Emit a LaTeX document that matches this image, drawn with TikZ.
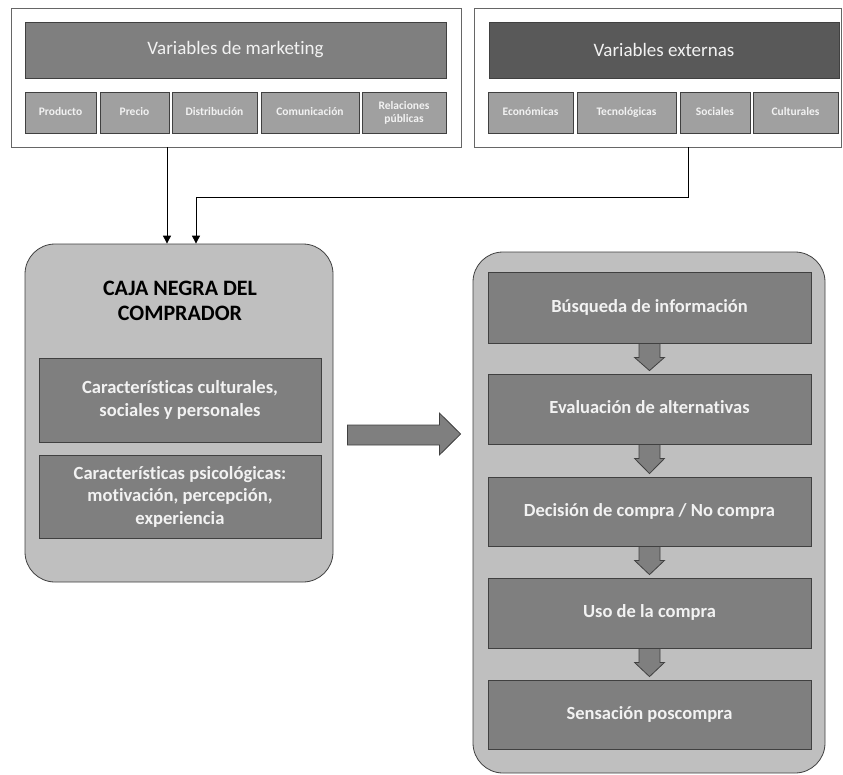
\documentclass[tikz,border=0pt]{standalone}
\usepackage{fontspec}
\setmainfont[Ligatures=NoCommon]{Carlito}
\usetikzlibrary{arrows.meta,calc}
\definecolor{hdrL}{HTML}{7F7F7F}
\definecolor{hdrR}{HTML}{595959}
\definecolor{subc}{HTML}{A0A0A0}
\definecolor{bigc}{HTML}{BFBFBF}
\definecolor{innc}{HTML}{7F7F7F}
\definecolor{edge}{HTML}{404040}
\definecolor{txtw}{HTML}{F2F2F2}
\tikzset{
  outerbox/.style={draw=edge!80, line width=0.8pt, fill=white, inner sep=0pt},
  hdrbox/.style={draw=edge, line width=0.8pt, inner sep=0pt, text=txtw, font=\fontsize{19}{22}\selectfont},
  subbase/.style={draw=edge, line width=0.8pt, fill=subc, inner sep=0pt, text=txtw, minimum height=41pt, font=\bfseries\fontsize{11.5}{13}\selectfont},
  subbox/.style={subbase, text height=8pt, text depth=2.5pt},
  bigbox/.style={draw=edge, line width=0.8pt, fill=bigc, rounded corners=30pt, inner sep=0pt},
  innbox/.style={draw=edge, line width=0.8pt, fill=innc, inner sep=0pt, text=txtw, font=\bfseries\fontsize{18.6}{22.5}\selectfont, align=center},
  stepbox/.style={draw=edge, line width=0.8pt, fill=innc, inner sep=0pt, text=txtw, minimum width=323pt, text height=13pt, text depth=4pt, font=\bfseries\fontsize{18.5}{22}\selectfont},
  conn/.style={draw=black, line width=0.9pt, -{Triangle[width=8pt,length=8pt]}},
  fatarrow/.style={draw=edge, line width=0.8pt, fill=innc, line join=miter}
}
\newcommand{\smallarr}[2]{%
  \draw[fatarrow] ($(#1.south)+(-10.5,0)$) -- ($(#1.south)+(10.5,0)$) -- ($(#1.south)+(10.5,14)$) -- ($(#1.south)+(15,14)$) -- ($(#2.north)+(0,-3)$) -- ($(#1.south)+(-15,14)$) -- ($(#1.south)+(-10.5,14)$) -- cycle;}
\begin{document}
\begin{tikzpicture}[x=1pt,y=-1pt]
\useasboundingbox (0,0) rectangle (843,774);
% top-left group
\node[outerbox, minimum width=450pt, minimum height=139pt] (mkt) at (236,77.5) {};
\node[hdrbox, fill=hdrL, minimum width=421pt, minimum height=56pt] (mkth) at (235.5,50) {Variables de marketing};
\node[subbox, minimum width=71pt] (prod) at (60.5,112.5) {Producto};
\node[subbox, minimum width=69pt] (prec) at (134.5,112.5) {Precio};
\node[subbox, minimum width=85pt] (dist) at (214.5,112.5) {Distribución};
\node[subbox, minimum width=98pt] (comu) at (310,112.5) {Comunicación};
\node[subbase, minimum width=84pt, align=center] (rela) at (404,112.5) {Relaciones\\públicas};
% top-right group
\node[outerbox, minimum width=367pt, minimum height=139pt] (ext) at (657.5,77.5) {};
\node[hdrbox, fill=hdrR, minimum width=350pt, minimum height=56pt] (exth) at (664,50) {Variables externas};
\node[subbox, minimum width=85pt] (econ) at (530.5,112.5) {Económicas};
\node[subbox, minimum width=99pt] (tecn) at (626.5,112.5) {Tecnológicas};
\node[subbox, minimum width=70pt] (soci) at (715,112.5) {Sociales};
\node[subbox, minimum width=85pt] (cult) at (795.5,112.5) {Culturales};
% black box
\node[bigbox, minimum width=308pt, minimum height=338pt] (caja) at (179,413) {};
\node[font=\bfseries\fontsize{22}{25}\selectfont, align=center, text=black] (cajat) at (180,300.5) {CAJA NEGRA DEL\\COMPRADOR};
\node[innbox, minimum width=282pt, minimum height=84pt] (carc) at (180,400) {Características culturales,\\sociales y personales};
\node[innbox, minimum width=282pt, minimum height=83pt] (carp) at (180,496.5) {Características psicológicas:\\motivación, percepción,\\experiencia};
% process box
\node[bigbox, minimum width=352pt, minimum height=521pt] (proc) at (649,512.5) {};
\node[stepbox, minimum height=71pt] (s1) at (649.5,307.5) {Búsqueda de información};
\node[stepbox, minimum height=70pt] (s2) at (649.5,409) {Evaluación de alternativas};
\node[stepbox, minimum height=69pt] (s3) at (649.5,511.5) {Decisión de compra / No compra};
\node[stepbox, minimum height=70pt] (s4) at (649.5,613) {Uso de la compra};
\node[stepbox, minimum height=69pt] (s5) at (649.5,714.5) {Sensación poscompra};
\smallarr{s1}{s2}
\smallarr{s2}{s3}
\smallarr{s3}{s4}
\smallarr{s4}{s5}
% connectors
\coordinate (mktout) at (167,147);
\coordinate (extout) at (688,147);
\draw[conn] (mktout) -- (mktout |- caja.north);
\draw[conn] (extout) -- (688,197) -- (196,197) -- (196,0 |- caja.north);
% big arrow
\draw[fatarrow] ($(caja.east)+(14,12)$) -- ($(caja.east)+(106,12)$) -- ($(caja.east)+(106,0)$) -- ($(proc.west)+(-12,-78.5)$) -- ($(caja.east)+(106,42)$) -- ($(caja.east)+(106,32)$) -- ($(caja.east)+(14,32)$) -- cycle;
\end{tikzpicture}
\end{document}
